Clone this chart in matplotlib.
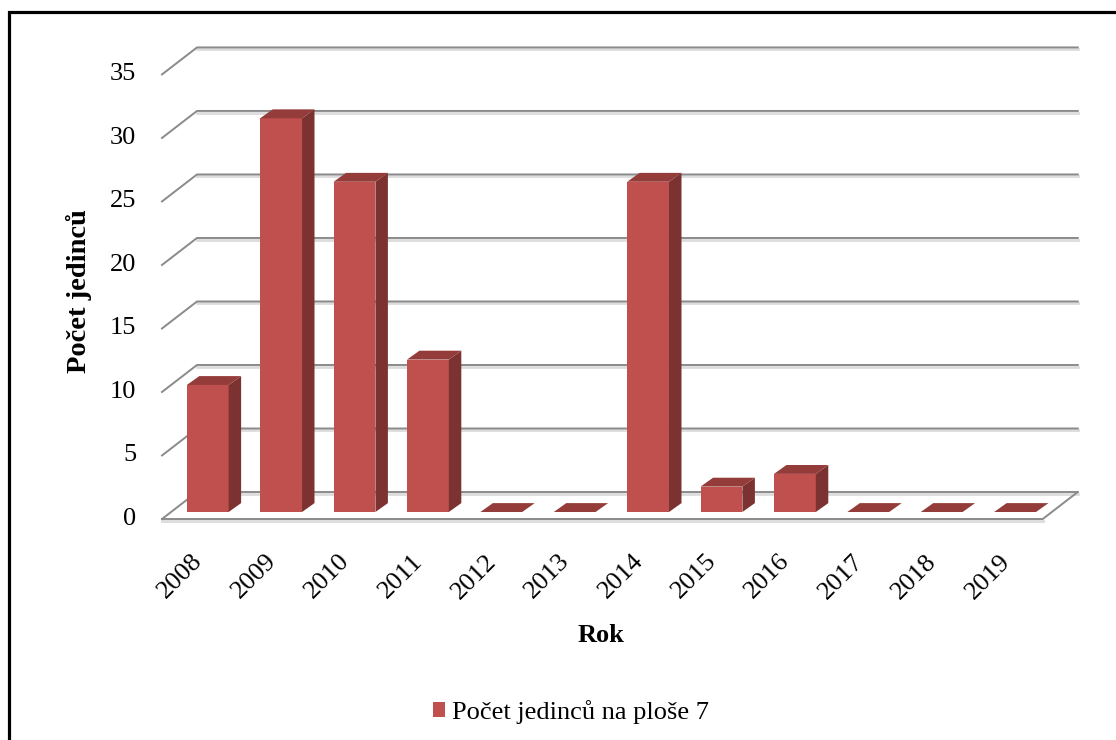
import matplotlib.pyplot as plt
from matplotlib.patches import Polygon, Rectangle

# data
years = ["2008", "2009", "2010", "2011", "2012", "2013",
         "2014", "2015", "2016", "2017", "2018", "2019"]
counts = [10, 31, 26, 12, 0, 0, 26, 2, 3, 0, 0, 0]
y_ticks = [0, 5, 10, 15, 20, 25, 30, 35]
series_name = "Počet jedinců na ploše 7"

plt.rcParams['font.family'] = ['Liberation Serif', 'DejaVu Serif']
fs = 19

c_front = "#C0504D"
c_side = "#7B3230"
c_top = "#943C39"
c_grid = "#8A8A8A"
c_shadow = "#DCDCDC"

# fake 3d offsets (data units)
bdx, bdy = 0.354, 1.575    # back wall
fdx, fdy = -0.123, -0.551  # front edge of floor
tdx, tdy = 0.17, 0.70      # bar depth
w = 0.57

fig = plt.figure(figsize=(11.16, 7.40), dpi=100)
ax = fig.add_axes([0, 0, 1, 1])
ax.set_xlim(-2.83, 12.375)
ax.set_ylim(-17.95, 40.31)
ax.axis("off")

n = len(years)
x0, x1 = -0.5, n - 0.5

# floor
floor = Polygon([(x0 + fdx, fdy), (x1 + fdx, fdy), (x1 + bdx, bdy), (x0 + bdx, bdy)],
                closed=True, facecolor="white", edgecolor="none", zorder=1)
ax.add_patch(floor)
ax.plot([x0 + fdx, x1 + fdx], [fdy - 0.13, fdy - 0.13], color=c_shadow, lw=2, zorder=1)
ax.plot([x0 + fdx, x1 + fdx, x1 + bdx], [fdy, fdy, bdy], color=c_grid, lw=1.4, zorder=2)

# gridlines on back and side wall
for v in y_ticks:
    ax.plot([x0 + bdx, x1 + bdx], [v + bdy - 0.13, v + bdy - 0.13], color=c_shadow, lw=2, zorder=1)
    ax.plot([x0 + fdx, x0 + bdx, x1 + bdx], [v + fdy, v + bdy, v + bdy],
            color=c_grid, lw=1.4, zorder=2)
    ax.text(-0.977, v + fdy, str(v), ha="right", va="center", fontsize=fs)

# bars
xs = list(range(n))
ax.bar(xs, counts, width=w, color=c_front, linewidth=0, zorder=5)
for x, v in zip(xs, counts):
    r = x + w / 2
    l = x - w / 2
    side = Polygon([(r, 0), (r + tdx, tdy), (r + tdx, v + tdy), (r, v)],
                   closed=True, facecolor=c_side, edgecolor="none", zorder=5)
    top = Polygon([(l, v), (r, v), (r + tdx, v + tdy), (l + tdx, v + tdy)],
                  closed=True, facecolor=c_top, edgecolor="none", zorder=6)
    ax.add_patch(side)
    ax.add_patch(top)

# category labels
for x, lab in zip(xs, years):
    ax.text(x - 0.01, -3.0, lab, rotation=45, ha="right", va="top", fontsize=fs)

ax.text(-1.76, 17.4, "Počet jedinců", rotation=90, ha="center", va="center",
        fontsize=20.5, fontweight="bold")
ax.text(5.358, -9.76, "Rok", ha="center", va="center", fontsize=fs, fontweight="bold")

handle = Rectangle((0, 0), 1, 1, facecolor=c_front, edgecolor="none")
fig.legend([handle], [series_name], loc="center", bbox_to_anchor=(571 / 1116, 1 - 712 / 740),
           frameon=False, fontsize=fs, handlelength=0.45, handleheight=0.45,
           handletextpad=0.25, borderpad=0)

# outer frame (cut off at right and bottom like the original)
frame = Rectangle((8.5 / 1116, -0.2), 1.3, 1.2 - 12 / 740, transform=fig.transFigure,
                  fill=False, edgecolor="black", linewidth=2.3)
fig.add_artist(frame)

fig.savefig("out.png", dpi=100)
